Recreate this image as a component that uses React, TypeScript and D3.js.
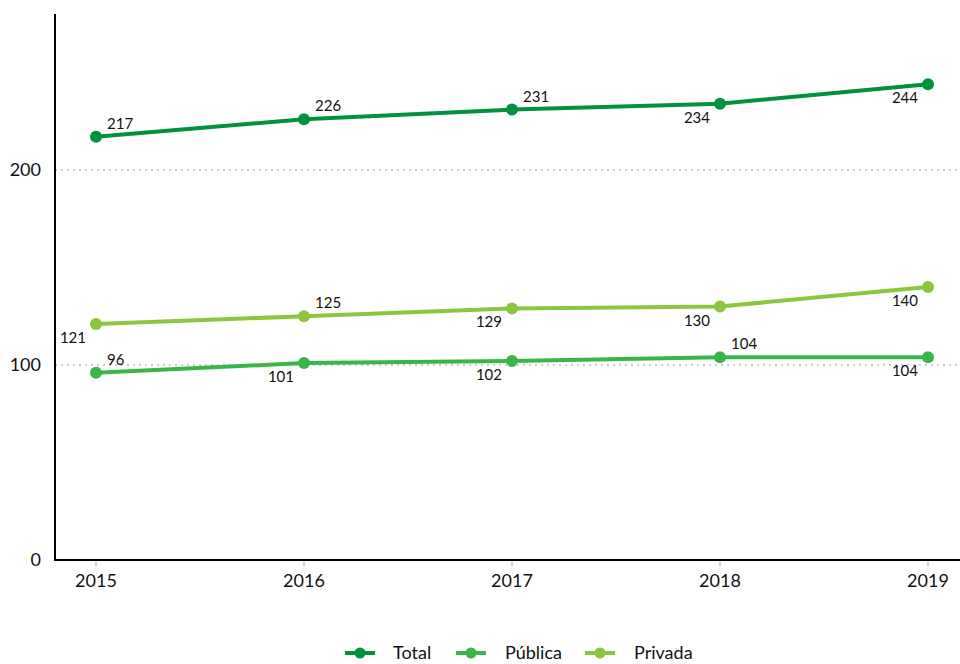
import React from "react";
import * as d3 from "d3";

const years = ["2015", "2016", "2017", "2018", "2019"];
const seriesNames = ["Total", "Pública", "Privada"];
const totalValues = [217, 226, 231, 234, 244];
const publicaValues = [96, 101, 102, 104, 104];
const privadaValues = [121, 125, 129, 130, 140];
const totalLabelPos = ["above", "above", "above", "below", "below"];
const publicaLabelPos = ["above", "below", "below", "above", "below"];
const privadaLabelPos = ["below", "above", "below", "below", "below"];
const yTicks = [0, 100, 200];
const colors = ["#00923F", "#3AB54A", "#8CC63F"];

const W = 960;
const H = 664;
const FONT = "Lato, 'Open Sans', sans-serif";

export default function App() {
  const x = d3.scalePoint<string>().domain(years).range([96, 928]);
  const y = d3.scaleLinear().domain([0, 280]).range([560, 14]);
  const axisX = 55;
  const series = [
    { name: seriesNames[0], values: totalValues, pos: totalLabelPos, color: colors[0] },
    { name: seriesNames[1], values: publicaValues, pos: publicaLabelPos, color: colors[1] },
    { name: seriesNames[2], values: privadaValues, pos: privadaLabelPos, color: colors[2] },
  ];
  const line = d3
    .line<number>()
    .x((_, i) => x(years[i]) as number)
    .y((d) => y(d));

  const legendItems = [
    { lineX: 345, textX: 393 },
    { lineX: 456, textX: 505 },
    { lineX: 585, textX: 634 },
  ];

  return (
    <svg
      width={W}
      height={H}
      style={{ position: "absolute", left: 0, top: 0, background: "#fff" }}
      fontFamily={FONT}
    >
      {/* gridlines */}
      {yTicks
        .filter((t) => t > 0)
        .map((t) => (
          <line
            key={t}
            x1={axisX}
            x2={W}
            y1={y(t)}
            y2={y(t)}
            stroke="#bdbdbd"
            strokeWidth={1.3}
            strokeDasharray="2,4"
          />
        ))}
      {/* y tick labels */}
      {yTicks.map((t) => (
        <text
          key={t}
          x={41}
          y={y(t)}
          dy="0.35em"
          textAnchor="end"
          fontSize={18}
          fill="#111"
        >
          {t}
        </text>
      ))}
      {/* x ticks */}
      {years.map((yr) => (
        <g key={yr}>
          <line
            x1={x(yr)}
            x2={x(yr)}
            y1={561}
            y2={567}
            stroke="#bbb"
            strokeWidth={1}
          />
          <text
            x={x(yr)}
            y={587}
            textAnchor="middle"
            fontSize={18}
            fill="#111"
          >
            {yr}
          </text>
        </g>
      ))}
      {/* axes */}
      <line x1={axisX} x2={axisX} y1={y(280)} y2={y(0) + 1} stroke="#000" strokeWidth={2} />
      <line x1={axisX - 1} x2={W} y1={y(0)} y2={y(0)} stroke="#000" strokeWidth={2} />
      {/* series */}
      {series.map((s) => (
        <g key={s.name}>
          <path d={line(s.values) || ""} fill="none" stroke={s.color} strokeWidth={4} />
          {s.values.map((v, i) => (
            <circle key={i} cx={x(years[i])} cy={y(v)} r={6} fill={s.color} />
          ))}
          {s.values.map((v, i) => {
            const cx = x(years[i]) as number;
            const cy = y(v);
            const above = s.pos[i] === "above";
            return (
              <text
                key={"l" + i}
                x={above ? cx + 11 : cx - 10}
                y={above ? cy - 8 : cy + 19}
                textAnchor={above ? "start" : "end"}
                fontSize={15}
                fill="#111"
              >
                {v}
              </text>
            );
          })}
        </g>
      ))}
      {/* legend */}
      {series.map((s, i) => (
        <g key={"lg" + s.name}>
          <line
            x1={legendItems[i].lineX}
            x2={legendItems[i].lineX + 30}
            y1={653}
            y2={653}
            stroke={s.color}
            strokeWidth={4}
          />
          <circle cx={legendItems[i].lineX + 15} cy={653} r={5.5} fill={s.color} />
          <text
            x={legendItems[i].textX}
            y={653}
            dy="0.35em"
            fontSize={18}
            fill="#111"
          >
            {s.name}
          </text>
        </g>
      ))}
    </svg>
  );
}
